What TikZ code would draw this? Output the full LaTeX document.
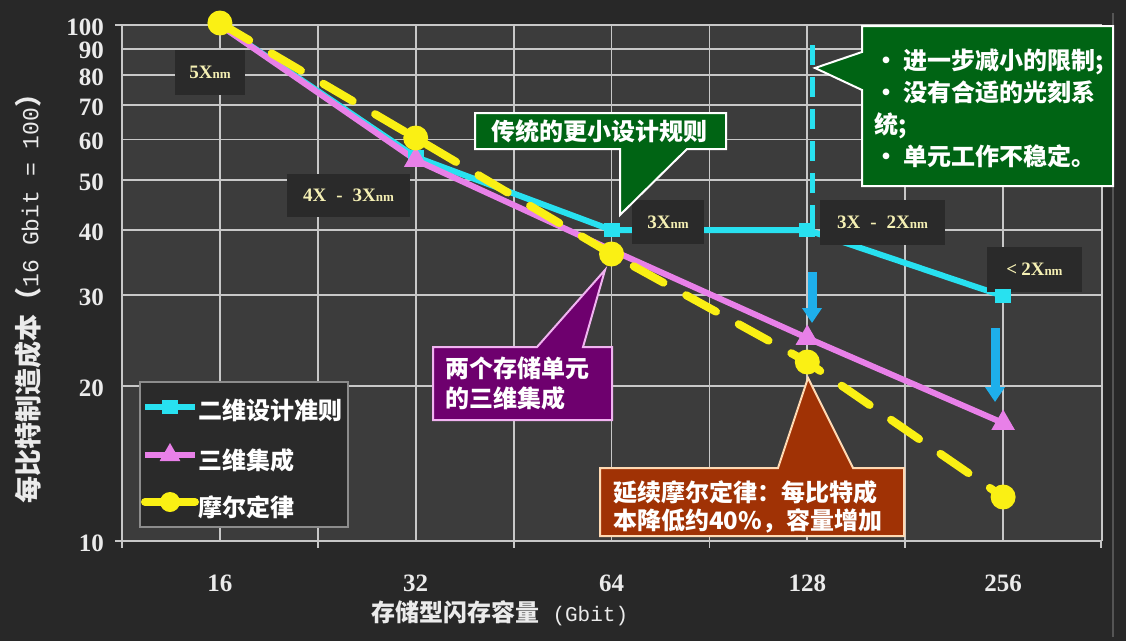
\documentclass[tikz,border=0pt]{standalone}
\usepackage{fontspec}
\setmainfont{Liberation Serif}
\newfontfamily\cjk{Noto Sans CJK SC}
\newfontfamily\monof{Liberation Mono}
\usetikzlibrary{arrows.meta,shapes.geometric}

\definecolor{bgout}{RGB}{40,40,40}
\definecolor{bgplot}{RGB}{60,60,60}
\definecolor{gridc}{RGB}{200,200,200}
\definecolor{lblbox}{RGB}{42,42,42}
\definecolor{lbltext}{RGB}{245,240,180}
\definecolor{cyanL}{RGB}{40,225,240}
\definecolor{arrowC}{RGB}{30,175,235}
\definecolor{pinkL}{RGB}{232,128,232}
\definecolor{yellowL}{RGB}{250,240,20}
\definecolor{greenC}{RGB}{0,100,20}
\definecolor{purpleC}{RGB}{110,0,110}
\definecolor{brownC}{RGB}{160,50,5}
\definecolor{txtc}{RGB}{235,235,235}
\definecolor{edgec}{RGB}{85,85,85}

\begin{document}
\begin{tikzpicture}[x=1pt,y=-1pt,
  gridln/.style={draw=gridc, line width=1.8pt},
  ser2d/.style={draw=cyanL, line width=6pt, line join=round},
  ser3d/.style={draw=pinkL, line width=6pt, line join=round},
  sermoore/.style={draw=yellowL, line width=8pt, line cap=round, dash pattern=on 34pt off 26pt},
  sqmark/.style={rectangle, fill=cyanL, minimum width=16pt, minimum height=14pt, inner sep=0pt},
  trimark/.style={regular polygon, regular polygon sides=3, fill=pinkL, minimum size=27pt, inner sep=0pt},
  dotmark/.style={circle, fill=yellowL, minimum size=25pt, inner sep=0pt},
  lbl/.style={fill=lblbox, text=lbltext, inner sep=0pt, font=\bfseries\fontsize{19}{19}\selectfont},
  calltext/.style={text=white, inner sep=0pt, align=left},
  numlbl/.style={text=txtc, font=\bfseries\fontsize{25}{25}\selectfont, inner sep=0pt},
  blockarrow/.style={draw=arrowC, line width=9pt, -{Triangle[length=15pt,width=19pt]}},
  callout/.style={draw=white, line width=2pt, line join=miter},
  legtext/.style={text=white, inner sep=0pt, anchor=west, font=\cjk\bfseries\fontsize{24}{24}\selectfont}
]
% background
\useasboundingbox (0,0) rectangle (1126,641);
\fill[bgout] (0,0) rectangle (1126,641);
\fill[bgplot] (122,25) rectangle (1102,541);
\draw[edgec, line width=2pt] (1113,13) -- (1113,637);

% horizontal grid and y labels
\foreach \v/\y in {100/25,90/48.6,80/75,70/105,60/139.5,50/180,40/230,30/295,20/386}{
  \draw[gridln] (122,\y) -- (1102,\y);
  \node[numlbl, anchor=east] (yl\v) at (104,\y+2) {\v};
}
\node[numlbl, anchor=east] (yl10) at (104,543) {10};
% vertical grid
\foreach \x in {219.9,317.8,415.7,513.6,611.5,709.4,807.3,905.2,1003.1}{
  \draw[gridln] (\x,25) -- (\x,541);
}
% axes
\draw[gridln] (1102,25) -- (1102,541);
\draw[gridc, line width=2.4pt] (115,25) -- (122,25) -- (122,541) -- (1102,541);
\draw[gridc, line width=2.4pt] (115,541) -- (122,541);
\foreach \x in {122,317.8,513.6,709.4,905.2,1101}{
  \draw[gridc, line width=1.8pt] (\x,541) -- (\x,548);
}
% x labels
\foreach \n/\x in {16/219.9,32/415.7,64/611.5,128/807.3,256/1003.1}{
  \node[numlbl] (xl\n) at (\x,583) {\n};
}
\node[text=txtc, inner sep=0pt] (xtitle) at (500,613)
  {\cjk\bfseries\fontsize{24}{24}\selectfont 存储型闪存容量{\monof\mdseries\fontsize{21}{21}\selectfont\ (Gbit)}};
\node[text=txtc, inner sep=0pt, rotate=90] (ytitle) at (28,292)
  {\cjk\bfseries\fontsize{27}{27}\selectfont 每比特制造成本（{\monof\mdseries\fontsize{23}{23}\selectfont 16 Gbit = 100}）};

% data coordinates
\coordinate (c1) at (219.9,25);  \coordinate (c2) at (415.7,157);
\coordinate (c3) at (611.5,230); \coordinate (c4) at (807.3,230);
\coordinate (c5) at (1003.1,296);
\coordinate (p1) at (219.9,25);  \coordinate (p2) at (415.7,160);
\coordinate (p3) at (611.5,250); \coordinate (p4) at (807.3,338);
\coordinate (p5) at (1003.1,423);
\coordinate (m1) at (219.9,23);  \coordinate (m2) at (415.7,138);
\coordinate (m3) at (611.5,254); \coordinate (m4) at (807.3,362);
\coordinate (m5) at (1003.1,497);

% dashed limit line and arrows
\coordinate (dtop) at (812,45);
\coordinate (dbot) at (812,226);
\draw[draw=cyanL, line width=5pt, dash pattern=on 20pt off 12pt] (dtop) -- (dbot);
\coordinate (a1s) at (812,272); \coordinate (a1e) at (812,323);
\coordinate (a2s) at (995,328); \coordinate (a2e) at (995,402);
\draw[blockarrow] (a1s) -- (a1e);
\draw[blockarrow] (a2s) -- (a2e);

% series lines
\draw[ser2d] (c1) -- (c2) -- (c3) -- (c4) -- (c5);
\draw[ser3d] (p1) -- (p2) -- (p3) -- (p4) -- (p5);
\draw[sermoore] (m1) -- (m2) -- (m3) -- (m4) -- (m5);

% feature size labels
\node[lbl, minimum width=70pt, minimum height=45pt] (l5x) at (210,72.5) {5X{\fontsize{13}{13}\selectfont nm}};
\node[lbl, minimum width=123pt, minimum height=43pt] (l43x) at (348.5,195.5) {4X\hspace{10pt}-\hspace{10pt}3X{\fontsize{13}{13}\selectfont nm}};
\node[lbl, minimum width=72pt, minimum height=44pt] (l3x) at (668,222) {3X{\fontsize{13}{13}\selectfont nm}};
\node[lbl, minimum width=125pt, minimum height=45pt] (l32x) at (882.5,222.5) {3X\hspace{10pt}-\hspace{10pt}2X{\fontsize{13}{13}\selectfont nm}};
\node[lbl, minimum width=95pt, minimum height=45pt] (l2x) at (1034.5,269.5) {<\hspace{4pt}2X{\fontsize{13}{13}\selectfont nm}};

% markers
\foreach \i in {2,3,4,5}{ \node[sqmark] (sq\i) at (c\i) {}; }
\foreach \i in {2,4,5}{ \node[trimark] (tr\i) at (p\i) {}; }
\foreach \i in {1,2,3,4,5}{ \node[dotmark] (dt\i) at (m\i) {}; }

% callout: conventional smaller design rules
\filldraw[callout, fill=greenC] (475,113) -- (726,113) -- (726,149) -- (687,149) -- (620,215) -- (620,149) -- (475,149) -- cycle;
\node[calltext, font=\cjk\bfseries\fontsize{24}{24}\selectfont] (gtxt1) at (599,131) {传统的更小设计规则};

% callout: limits
\filldraw[callout, fill=greenC] (862,26) -- (1113,26) -- (1113,186) -- (862,186) -- (862,90) -- (815,68) -- (862,52) -- cycle;
\node[calltext, anchor=west, font=\cjk\bfseries\fontsize{24}{32}\selectfont] (gtxt2) at (874,108)
  {•\ 进一步减小的限制;\\•\ 没有合适的光刻系\\统;\\•\ 单元工作不稳定。};

% callout: two cells 3D
\filldraw[callout, draw=pinkL!60!white, fill=purpleC] (433,347) -- (537,347) -- (605,270) -- (583,347) -- (612,347) -- (612,420) -- (433,420) -- cycle;
\node[calltext, anchor=west, font=\cjk\bfseries\fontsize{24}{30}\selectfont] (ptxt) at (445,383)
  {两个存储单元\\的三维集成};

% callout: Moore's law continuation
\filldraw[callout, draw=orange!30!white, fill=brownC] (600,468) -- (778,468) -- (808,378) -- (853,468) -- (904,468) -- (904,536) -- (600,536) -- cycle;
\node[calltext, anchor=west, font=\cjk\bfseries\fontsize{24}{28}\selectfont] (btxt) at (613,507)
  {延续摩尔定律：每比特成\\本降低约40\%，容量增加};

% legend
\node[draw=gridc!70!black, line width=1.5pt, fill=lblbox, minimum width=208pt, minimum height=145pt, inner sep=0pt] (legend) at (244,454.5) {};
\coordinate (la1) at (145,407); \coordinate (lb1) at (195,407);
\coordinate (la2) at (145,455); \coordinate (lb2) at (195,455);
\coordinate (la3) at (145,502); \coordinate (lb3) at (195,502);
\draw[ser2d] (la1) -- (lb1);
\node[sqmark] (lm1) at (170,407) {};
\draw[ser3d] (la2) -- (lb2);
\node[trimark, minimum size=24pt] (lm2) at (170,455) {};
\draw[draw=yellowL, line width=8pt, line cap=round] (la3) -- (lb3);
\node[dotmark, minimum size=20pt] (lm3) at (170,502) {};
\node[legtext] (lt1) at (198,410) {二维设计准则};
\node[legtext] (lt2) at (198,460) {三维集成};
\node[legtext] (lt3) at (198,507) {摩尔定律};
\end{tikzpicture}
\end{document}
